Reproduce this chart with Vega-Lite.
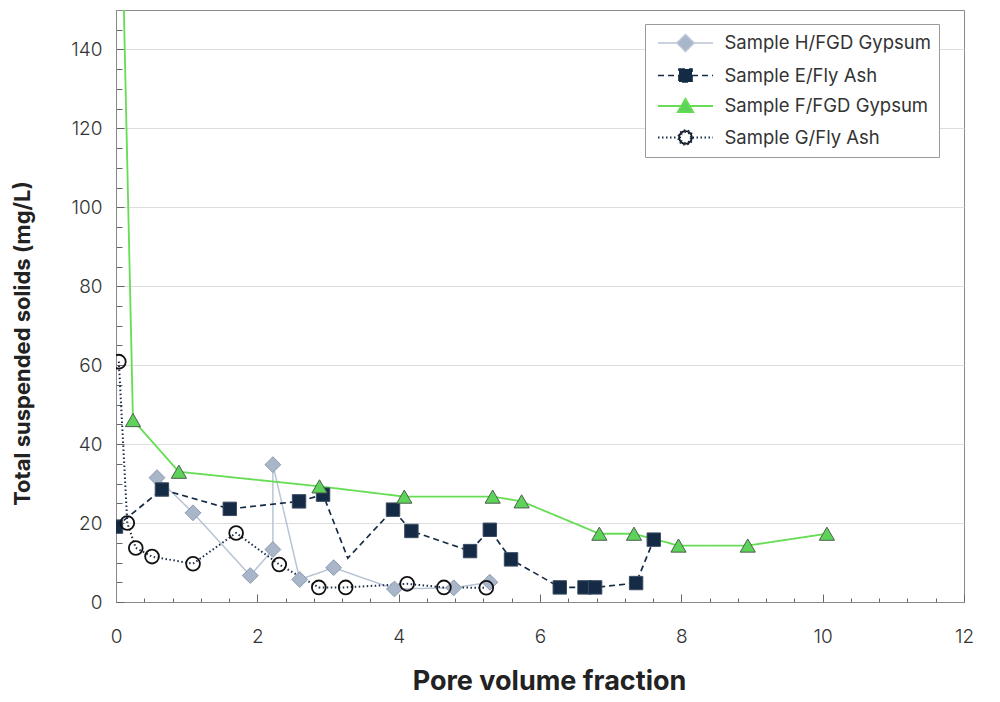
{
  "$schema": "https://vega.github.io/schema/vega-lite/v6.json",
  "width": 848,
  "height": 592,
  "autosize": "none",
  "padding": {"left": 116, "top": 10, "right": 36, "bottom": 100},
  "background": "white",
  "datasets": {
    "tss": [
      {"sample": "Sample H/FGD Gypsum", "i": 0, "pv": 0.58, "tss": 31.5},
      {"sample": "Sample H/FGD Gypsum", "i": 1, "pv": 1.09, "tss": 22.6},
      {"sample": "Sample H/FGD Gypsum", "i": 2, "pv": 1.9, "tss": 6.7},
      {"sample": "Sample H/FGD Gypsum", "i": 3, "pv": 2.22, "tss": 13.3},
      {"sample": "Sample H/FGD Gypsum", "i": 4, "pv": 2.22, "tss": 34.8},
      {"sample": "Sample H/FGD Gypsum", "i": 5, "pv": 2.6, "tss": 5.7},
      {"sample": "Sample H/FGD Gypsum", "i": 6, "pv": 3.08, "tss": 8.7},
      {"sample": "Sample H/FGD Gypsum", "i": 7, "pv": 3.94, "tss": 3.3},
      {"sample": "Sample H/FGD Gypsum", "i": 8, "pv": 4.78, "tss": 3.6},
      {"sample": "Sample H/FGD Gypsum", "i": 9, "pv": 5.29, "tss": 5.0},
      {"sample": "Sample E/Fly Ash", "i": 0, "pv": 0.0, "tss": 19.1},
      {"sample": "Sample E/Fly Ash", "i": 1, "pv": 0.65, "tss": 28.5},
      {"sample": "Sample E/Fly Ash", "i": 2, "pv": 1.61, "tss": 23.6},
      {"sample": "Sample E/Fly Ash", "i": 3, "pv": 2.59, "tss": 25.5},
      {"sample": "Sample E/Fly Ash", "i": 4, "pv": 2.93, "tss": 27.2},
      {"sample": "Sample E/Fly Ash", "i": 5, "pv": 3.28, "tss": 11.1},
      {"sample": "Sample E/Fly Ash", "i": 6, "pv": 3.92, "tss": 23.4},
      {"sample": "Sample E/Fly Ash", "i": 7, "pv": 4.18, "tss": 18.0},
      {"sample": "Sample E/Fly Ash", "i": 8, "pv": 5.01, "tss": 12.9},
      {"sample": "Sample E/Fly Ash", "i": 9, "pv": 5.29, "tss": 18.3},
      {"sample": "Sample E/Fly Ash", "i": 10, "pv": 5.59, "tss": 10.8},
      {"sample": "Sample E/Fly Ash", "i": 11, "pv": 6.28, "tss": 3.7},
      {"sample": "Sample E/Fly Ash", "i": 12, "pv": 6.63, "tss": 3.7},
      {"sample": "Sample E/Fly Ash", "i": 13, "pv": 6.78, "tss": 3.7},
      {"sample": "Sample E/Fly Ash", "i": 14, "pv": 7.36, "tss": 4.8},
      {"sample": "Sample E/Fly Ash", "i": 15, "pv": 7.61, "tss": 15.8},
      {"sample": "Sample F/FGD Gypsum", "i": 0, "pv": 0.0, "tss": 240},
      {"sample": "Sample F/FGD Gypsum", "i": 1, "pv": 0.24, "tss": 46.1},
      {"sample": "Sample F/FGD Gypsum", "i": 2, "pv": 0.89, "tss": 33.0},
      {"sample": "Sample F/FGD Gypsum", "i": 3, "pv": 2.88, "tss": 29.3},
      {"sample": "Sample F/FGD Gypsum", "i": 4, "pv": 4.08, "tss": 26.7},
      {"sample": "Sample F/FGD Gypsum", "i": 5, "pv": 5.33, "tss": 26.7},
      {"sample": "Sample F/FGD Gypsum", "i": 6, "pv": 5.74, "tss": 25.5},
      {"sample": "Sample F/FGD Gypsum", "i": 7, "pv": 6.84, "tss": 17.3},
      {"sample": "Sample F/FGD Gypsum", "i": 8, "pv": 7.33, "tss": 17.3},
      {"sample": "Sample F/FGD Gypsum", "i": 9, "pv": 7.96, "tss": 14.3},
      {"sample": "Sample F/FGD Gypsum", "i": 10, "pv": 8.94, "tss": 14.3},
      {"sample": "Sample F/FGD Gypsum", "i": 11, "pv": 10.06, "tss": 17.3},
      {"sample": "Sample G/Fly Ash", "i": 0, "pv": 0.04, "tss": 60.9},
      {"sample": "Sample G/Fly Ash", "i": 1, "pv": 0.16, "tss": 20.0},
      {"sample": "Sample G/Fly Ash", "i": 2, "pv": 0.28, "tss": 13.7},
      {"sample": "Sample G/Fly Ash", "i": 3, "pv": 0.51, "tss": 11.5},
      {"sample": "Sample G/Fly Ash", "i": 4, "pv": 1.09, "tss": 9.7},
      {"sample": "Sample G/Fly Ash", "i": 5, "pv": 1.7, "tss": 17.5},
      {"sample": "Sample G/Fly Ash", "i": 6, "pv": 2.31, "tss": 9.5},
      {"sample": "Sample G/Fly Ash", "i": 7, "pv": 2.87, "tss": 3.7},
      {"sample": "Sample G/Fly Ash", "i": 8, "pv": 3.25, "tss": 3.7},
      {"sample": "Sample G/Fly Ash", "i": 9, "pv": 4.12, "tss": 4.6},
      {"sample": "Sample G/Fly Ash", "i": 10, "pv": 4.64, "tss": 3.7},
      {"sample": "Sample G/Fly Ash", "i": 11, "pv": 5.24, "tss": 3.6}
    ]
  },
  "data": {"name": "tss"},
  "encoding": {
    "x": {
      "field": "pv",
      "type": "quantitative",
      "scale": {"domain": [0, 12], "nice": false, "zero": false},
      "axis": {
        "title": "Pore volume fraction",
        "format": "~g",
        "labelFlush": false,
        "values": [0, 0.4, 0.8, 1.2, 1.6, 2, 2.4, 2.8, 3.2, 3.6, 4, 4.4, 4.8, 5.2, 5.6, 6, 6.4, 6.8, 7.2, 7.6, 8, 8.4, 8.8, 9.2, 9.6, 10, 10.4, 10.8, 11.2, 11.6, 12],
        "labelExpr": "abs(datum.value / 2 - round(datum.value / 2)) < 0.01 ? datum.label : ''",
        "tickSize": {"condition": {"test": "abs(datum.value / 2 - round(datum.value / 2)) < 0.01", "value": -8}, "value": -4},
        "grid": false,
        "labelPadding": 33,
        "titleFontSize": 27,
        "titlePadding": 22,
        "titleX": 433
      }
    },
    "y": {
      "field": "tss",
      "type": "quantitative",
      "scale": {"domain": [0, 150], "nice": false},
      "axis": {
        "title": "Total suspended solids (mg/L)",
        "values": [0, 5, 10, 15, 20, 25, 30, 35, 40, 45, 50, 55, 60, 65, 70, 75, 80, 85, 90, 95, 100, 105, 110, 115, 120, 125, 130, 135, 140, 145],
        "labelExpr": "datum.value % 20 === 0 ? datum.label : ''",
        "tickSize": {"condition": {"test": "datum.value % 20 === 0", "value": -8}, "value": -6},
        "grid": true,
        "gridOpacity": {"condition": {"test": "datum.value % 20 === 0 && datum.value > 0", "value": 1}, "value": 0},
        "labelPadding": 22,
        "titleFontSize": 22,
        "titlePadding": 36,
        "titleY": 333
      }
    }
  },
  "layer": [
    {
      "mark": {"type": "line", "clip": true},
      "encoding": {
        "order": {"field": "i", "type": "quantitative"},
        "color": {
          "field": "sample",
          "type": "nominal",
          "scale": {
            "domain": ["Sample H/FGD Gypsum", "Sample E/Fly Ash", "Sample F/FGD Gypsum", "Sample G/Fly Ash"],
            "range": ["#b8c4d4", "#142a45", "#66dd55", "#1c2f48"]
          },
          "legend": {
            "title": null, "orient": "none", "legendX": 529, "legendY": 14,
            "symbolSize": 400, "symbolStrokeWidth": 1.6, "symbolOpacity": 1,
            "symbolOffset": 21.5, "labelOffset": 28, "padding": 8, "rowPadding": 9.5,
            "fillColor": "white", "strokeColor": "#9a9a9a",
            "labelFontSize": 18.5, "labelColor": "#333333", "labelLimit": 400
          }
        },
        "strokeDash": {
          "field": "sample",
          "type": "nominal",
          "scale": {
            "domain": ["Sample H/FGD Gypsum", "Sample E/Fly Ash", "Sample F/FGD Gypsum", "Sample G/Fly Ash"],
            "range": [[1, 0], [6, 4], [1, 0], [1.5, 2.5]]
          },
          "legend": {
            "title": null, "orient": "none", "legendX": 529, "legendY": 14,
            "symbolSize": 400, "symbolStrokeWidth": 1.6, "symbolOpacity": 1,
            "symbolOffset": 21.5, "labelOffset": 28, "padding": 8, "rowPadding": 9.5,
            "fillColor": "white", "strokeColor": "#9a9a9a",
            "labelFontSize": 18.5, "labelColor": "#333333", "labelLimit": 400
          }
        },
        "strokeWidth": {
          "field": "sample",
          "type": "nominal",
          "scale": {
            "domain": ["Sample H/FGD Gypsum", "Sample E/Fly Ash", "Sample F/FGD Gypsum", "Sample G/Fly Ash"],
            "range": [1.5, 2, 1.8, 1.8]
          },
          "legend": null
        }
      }
    },
    {
      "mark": {"type": "point", "filled": true, "opacity": 0, "clip": true},
      "encoding": {
        "shape": {
          "field": "sample",
          "type": "nominal",
          "scale": {
            "domain": ["Sample H/FGD Gypsum", "Sample E/Fly Ash", "Sample F/FGD Gypsum", "Sample G/Fly Ash"],
            "range": [
              "M-2.75,0H-0.85M0.85,0H2.75M0,-0.85L0.85,0L0,0.85L-0.85,0Z",
              "M-2.75,0H-0.65M0.65,0H2.75M-0.65,-0.65H0.65V0.65H-0.65Z",
              "M-2.75,0H-0.4M0.4,0H2.75M0,-0.72L0.78,0.62H-0.78Z",
              "M-2.75,0H-0.7M0.7,0H2.75M0.72,0A0.72,0.72 0 1,1 -0.72,0A0.72,0.72 0 1,1 0.72,0ZM0.54,0A0.54,0.54 0 1,0 -0.54,0A0.54,0.54 0 1,0 0.54,0Z"
            ]
          },
          "legend": {
            "title": null, "orient": "none", "legendX": 529, "legendY": 14,
            "symbolSize": 400, "symbolStrokeWidth": 1.6, "symbolOpacity": 1,
            "symbolOffset": 21.5, "labelOffset": 28, "padding": 8, "rowPadding": 9.5,
            "fillColor": "white", "strokeColor": "#9a9a9a",
            "labelFontSize": 18.5, "labelColor": "#333333", "labelLimit": 400
          }
        },
        "fill": {
          "field": "sample",
          "type": "nominal",
          "scale": {
            "domain": ["Sample H/FGD Gypsum", "Sample E/Fly Ash", "Sample F/FGD Gypsum", "Sample G/Fly Ash"],
            "range": ["#a9b6ca", "#142a45", "#5ed35a", "#111111"]
          },
          "legend": {
            "title": null, "orient": "none", "legendX": 529, "legendY": 14,
            "symbolSize": 400, "symbolStrokeWidth": 1.6, "symbolOpacity": 1,
            "symbolOffset": 21.5, "labelOffset": 28, "padding": 8, "rowPadding": 9.5,
            "fillColor": "white", "strokeColor": "#9a9a9a",
            "labelFontSize": 18.5, "labelColor": "#333333", "labelLimit": 400
          }
        }
      }
    },
    {
      "transform": [{"filter": "datum.sample === 'Sample H/FGD Gypsum'"}],
      "mark": {"type": "point", "shape": "diamond", "filled": true, "fill": "#a9b6ca", "stroke": "#8c99ae", "strokeWidth": 1, "size": 250, "opacity": 1, "clip": true}
    },
    {
      "transform": [{"filter": "datum.sample === 'Sample E/Fly Ash' && datum.i !== 5"}],
      "mark": {"type": "point", "shape": "square", "filled": true, "fill": "#142a45", "stroke": "#3a4b62", "strokeWidth": 1, "size": 180, "opacity": 1, "clip": true}
    },
    {
      "transform": [{"filter": "datum.sample === 'Sample F/FGD Gypsum'"}],
      "mark": {"type": "point", "shape": "triangle-up", "filled": true, "fill": "#5ed35a", "stroke": "#4d5e4d", "strokeWidth": 1, "size": 230, "opacity": 1, "clip": true}
    },
    {
      "transform": [{"filter": "datum.sample === 'Sample G/Fly Ash'"}],
      "mark": {"type": "point", "shape": "circle", "filled": false, "fill": "transparent", "stroke": "#111111", "strokeWidth": 1.8, "size": 190, "opacity": 1, "clip": true}
    }
  ],
  "config": {
    "font": "Inter",
    "view": {"stroke": "#8a8a8a", "strokeWidth": 1},
    "axis": {
      "domainColor": "#8a8a8a",
      "tickColor": "#666666",
      "gridColor": "#dddddd",
      "labelFont": "Inter",
      "labelFontSize": 19,
      "labelColor": "#333333",
      "labelFontWeight": 300,
      "titleFont": "Inter",
      "titleFontWeight": "bold",
      "titleColor": "#222222"
    },
    "legend": {"labelFont": "Inter"}
  }
}
